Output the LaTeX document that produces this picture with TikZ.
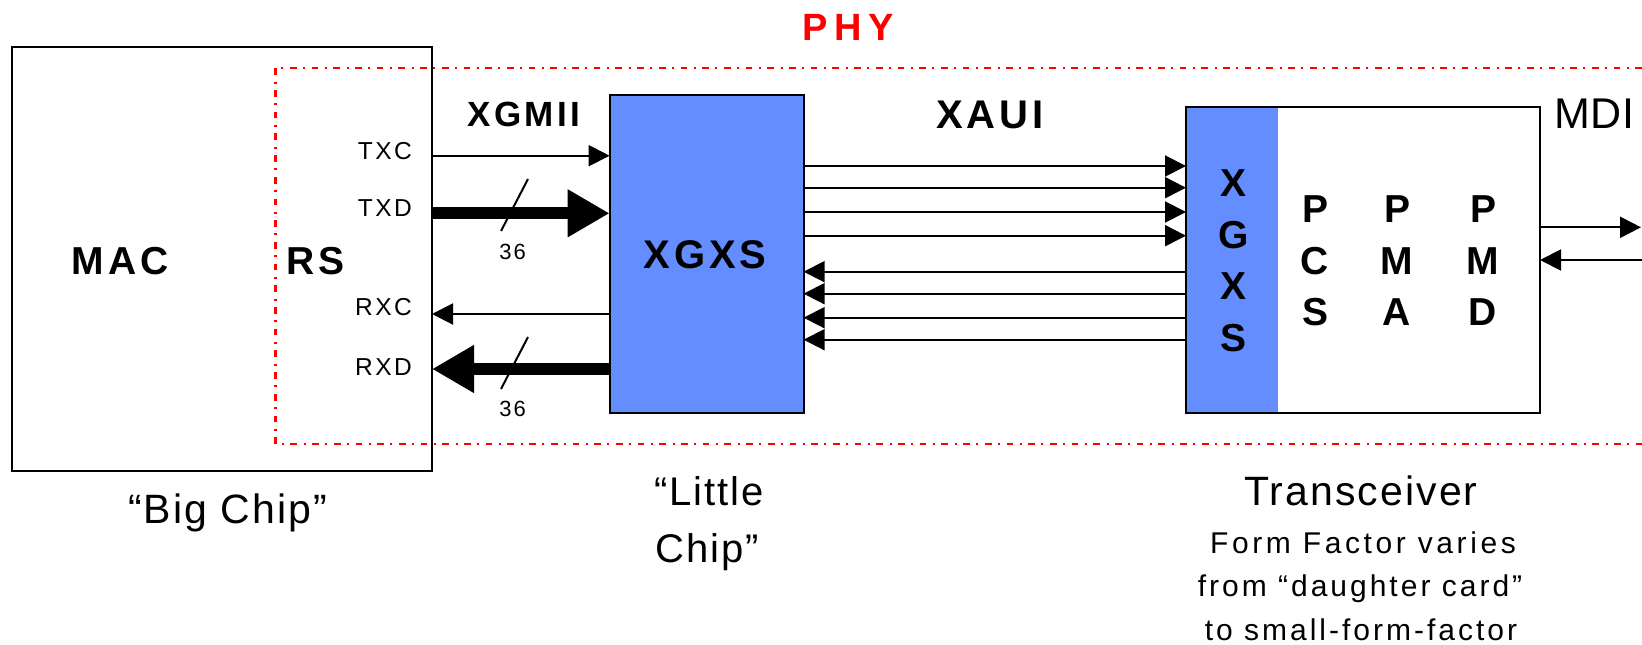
\documentclass[tikz,border=0pt]{standalone}
\usepackage{fontspec}
\setmainfont{Liberation Sans}[LetterSpace=10]
\newfontfamily\nrwfont{Liberation Sans}[LetterSpace=5]
\newfontfamily\mdifont{Liberation Sans}[LetterSpace=2]
\newfontfamily\widefont{Liberation Sans}[LetterSpace=12]
\newfontfamily\phyfont{Liberation Sans}[LetterSpace=18]
\usetikzlibrary{arrows.meta}
\definecolor{chipblue}{RGB}{100,142,255}
\definecolor{phyred}{RGB}{255,0,0}
\begin{document}
\begin{tikzpicture}[x=1pt,y=-1pt,
  box/.style={draw=black, line width=2pt, inner sep=0pt, outer sep=0pt, anchor=north west},
  blk/.style={fill=chipblue, inner sep=0pt, outer sep=0pt, anchor=north west},
  bt/.style={font=\fontsize{#1}{#1}\bfseries\selectfont, inner sep=0pt},
  rt/.style={font=\fontsize{#1}{#1}\selectfont, inner sep=0pt},
  nt/.style={font=\nrwfont\fontsize{#1}{#1}\selectfont, inner sep=0pt},
  col/.style={font=\fontsize{39}{51.5}\bfseries\selectfont, inner sep=0pt, align=center},
  thinarr/.style={line width=2pt, -{Triangle[length=21pt,width=21pt]}},
  thickarr/.style={line width=11.7pt, -{Triangle[length=42pt,width=45pt]}},
  slash/.style={line width=2pt},
  phyline/.style={draw=phyred, line width=2.3pt, dash pattern=on 6.7pt off 6.5pt on 2pt off 6.5pt}
]
\useasboundingbox (0,0) rectangle (1642,645);

% boxes
\node[box, minimum width=420.5pt, minimum height=424.3pt] (mac) at (11.5,46.7) {};
\draw[phyline] (1642,67.7) -- (275.5,67.7) -- (275.5,444) -- (1642,444);
\node[box, fill=chipblue, minimum width=194pt, minimum height=318.3pt] (xg) at (609.6,95) {};
\node[blk, minimum width=91.5pt, minimum height=306pt] (trxg) at (1186,107) {};
\node[box, minimum width=354pt, minimum height=306pt] (trx) at (1186,107) {};

% labels
\node[font=\phyfont\fontsize{38}{38}\bfseries\selectfont, inner sep=0pt, text=phyred] (phy) at (848,27) {PHY};
\node[bt=39] (maclbl) at (120,260.7) {MAC};
\node[bt=39] (rslbl) at (316,260.7) {RS};
\node[bt=35] (xgmii) at (524,114) {XGMII};
\node[bt=40] (xaui) at (990,115) {XAUI};
\node[bt=40] (xgxslbl) at (705,255) {XGXS};
\node[rt=24.5, anchor=east] (txc) at (412,150.7) {TXC};
\node[rt=24.5, anchor=east] (txd) at (412,208) {TXD};
\node[rt=24.5, anchor=east] (rxc) at (412,306.7) {RXC};
\node[rt=24.5, anchor=east] (rxd) at (412,366.7) {RXD};
\node[rt=22] (w1) at (512.6,251.7) {36};
\node[rt=22] (w2) at (512.6,409.3) {36};
\node[col] (c1) at (1233.5,260.8) {X\\G\\X\\S};
\node[col] (c2) at (1315,260.8) {P\\C\\S};
\node[col] (c3) at (1397,260.8) {P\\M\\A};
\node[col] (c4) at (1483,260.8) {P\\M\\D};
\node[font=\mdifont\fontsize{43}{43}\selectfont, inner sep=0pt] (mdi) at (1594.5,113.7) {MDI};
\node[nt=41, anchor=base] (big) at (227.5,523.3) {“Big Chip”};
\node[nt=40, anchor=base] (littleA) at (709,505) {“Little};
\node[nt=40, anchor=base] (littleB) at (707,562.7) {Chip”};
\node[nt=41, anchor=base] (trxlbl) at (1361,505) {Transceiver};
\node[font=\widefont\fontsize{30}{30}\selectfont, inner sep=0pt, anchor=base] (ff1) at (1363,553.3) {Form Factor varies};
\node[rt=30, anchor=base] (ff2) at (1360,596.7) {from “daughter card”};
\node[rt=30, anchor=base] (ff3) at (1361,640) {to small-form-factor};

% XGMII
\draw[thinarr] (mac.east |- 0,155.7) -- (xg.west |- 0,155.7);
\draw[thickarr] (mac.east |- 0,213.3) -- (xg.west |- 0,213.3);
\draw[thinarr] (xg.west |- 0,314) -- (mac.east |- 0,314);
\draw[thickarr] (xg.west |- 0,369) -- (mac.east |- 0,369);
\draw[slash] (528,179) -- (501,231);
\draw[slash] (528,337) -- (501,389);

% XAUI
\foreach \y in {166,187.7,212,235.7}
  \draw[thinarr] (xg.east |- 0,\y) -- (trx.west |- 0,\y);
\foreach \y in {271.7,293.7,317.7,339.7}
  \draw[thinarr] (trx.west |- 0,\y) -- (xg.east |- 0,\y);

% MDI
\coordinate (mdiout) at (1641,227.3);
\coordinate (mdiin) at (1642,260);
\draw[thinarr] (trx.east |- mdiout) -- (mdiout);
\draw[thinarr] (mdiin) -- (trx.east |- mdiin);
\end{tikzpicture}
\end{document}
